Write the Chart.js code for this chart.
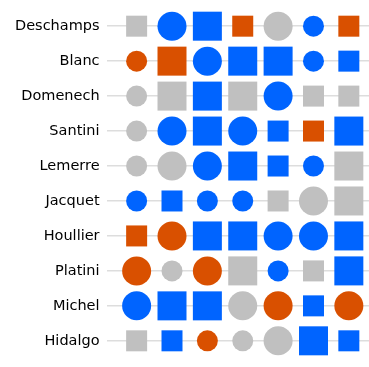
<!DOCTYPE html>
<html>
<head>
<meta charset="utf-8">
<script src="https://cdn.jsdelivr.net/npm/chart.js@4.4.1/dist/chart.umd.min.js"></script>
<style>
  html, body { margin: 0; padding: 0; background: #fff; }
  #wrap { width: 369px; height: 367px; }
</style>
</head>
<body>
<div id="wrap"><canvas id="myChart"></canvas></div>
<script>
// coaches, top to bottom
var coaches = ["Deschamps", "Blanc", "Domenech", "Santini", "Lemerre", "Jacquet", "Houllier", "Platini", "Michel", "Hidalgo"];
var columns = [1, 2, 3, 4, 5, 6, 7];

// colour code per cell: b = blue, g = grey, o = orange
var colorCodes = [
  ["g", "b", "b", "o", "g", "b", "o"],
  ["o", "o", "b", "b", "b", "b", "b"],
  ["g", "g", "b", "g", "b", "g", "g"],
  ["g", "b", "b", "b", "b", "o", "b"],
  ["g", "g", "b", "b", "b", "b", "g"],
  ["b", "b", "b", "b", "g", "g", "g"],
  ["o", "o", "b", "b", "b", "b", "b"],
  ["o", "g", "o", "g", "b", "g", "b"],
  ["b", "b", "b", "g", "o", "b", "o"],
  ["g", "b", "o", "g", "g", "b", "b"]
];
// shape per cell: c = circle, s = square
var shapeCodes = [
  ["s", "c", "s", "s", "c", "c", "s"],
  ["c", "s", "c", "s", "s", "c", "s"],
  ["c", "s", "s", "s", "c", "s", "s"],
  ["c", "c", "s", "c", "s", "s", "s"],
  ["c", "c", "c", "s", "s", "c", "s"],
  ["c", "s", "c", "c", "s", "c", "s"],
  ["s", "c", "s", "s", "c", "c", "s"],
  ["c", "c", "c", "s", "c", "s", "s"],
  ["c", "s", "s", "c", "c", "s", "c"],
  ["s", "s", "c", "c", "c", "s", "s"]
];
// size per cell: 1 = large, 0 = small
var bigFlags = [
  [0, 1, 1, 0, 1, 0, 0],
  [0, 1, 1, 1, 1, 0, 0],
  [0, 1, 1, 1, 1, 0, 0],
  [0, 1, 1, 1, 0, 0, 1],
  [0, 1, 1, 1, 0, 0, 1],
  [0, 0, 0, 0, 0, 1, 1],
  [0, 1, 1, 1, 1, 1, 1],
  [1, 0, 1, 1, 0, 0, 1],
  [1, 1, 1, 1, 1, 0, 1],
  [0, 0, 0, 0, 1, 1, 0]
];

var palette = { b: "#0064ff", g: "#c0c0c0", o: "#d95000" };
var diamSmall = 21, diamBig = 29;

var datasets = coaches.map(function(name, r) {
  return {
    label: name,
    data: columns.map(function(c) { return { x: c, y: name }; }),
    pointStyle: shapeCodes[r].map(function(s) { return s === "c" ? "circle" : "rect"; }),
    pointRadius: shapeCodes[r].map(function(s, i) {
      var d = bigFlags[r][i] ? diamBig : diamSmall;
      // rect side = radius * sqrt(2) in chart.js
      return s === "c" ? d / 2 : d / Math.SQRT2;
    }),
    backgroundColor: colorCodes[r].map(function(k) { return palette[k]; }),
    borderWidth: 0,
    pointHoverRadius: 0,
    clip: false
  };
});

var ctx = document.getElementById("myChart").getContext("2d");
new Chart(ctx, {
  type: "scatter",
  data: { datasets: datasets },
  options: {
    responsive: true,
    maintainAspectRatio: false,
    animation: false,
    events: [],
    layout: { autoPadding: false, padding: { left: 15 } },
    plugins: { legend: { display: false }, tooltip: { enabled: false } },
    scales: {
      x: {
        type: "linear",
        min: 0.15,
        max: 7.57,
        display: false
      },
      y: {
        type: "category",
        labels: coaches,
        offset: true,
        border: { display: false },
        grid: { offset: false, drawTicks: true, tickLength: 7, tickColor: "rgba(0,0,0,0)", color: "#dddddd", lineWidth: 1.5 },
        ticks: {
          color: "#000",
          padding: 0,
          font: { family: "DejaVu Sans", size: 14.5 }
        }
      }
    }
  }
});
</script>
</body>
</html>
